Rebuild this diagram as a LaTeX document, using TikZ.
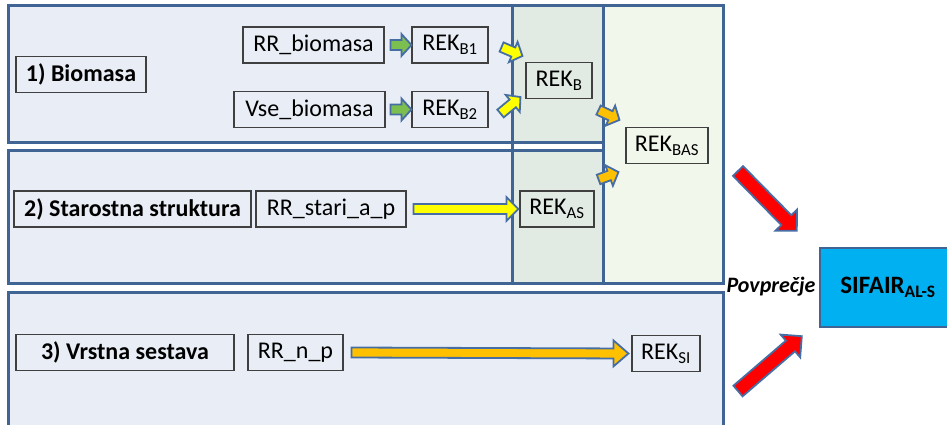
\documentclass[tikz,border=0pt]{standalone}
\usepackage{fontspec}
\setmainfont{Carlito}
\usetikzlibrary{calc,positioning}
\definecolor{panelline}{RGB}{64,100,148}
\definecolor{bluebg}{RGB}{233,238,246}
\definecolor{greybg}{RGB}{226,234,228}
\definecolor{greenbg}{RGB}{242,247,236}
\definecolor{arrowline}{RGB}{70,110,165}
\definecolor{arrowgreen}{RGB}{125,190,80}
\definecolor{arrowyellow}{RGB}{255,255,0}
\definecolor{arroworange}{RGB}{255,192,0}
\definecolor{arrowred}{RGB}{255,0,0}
\definecolor{sifairblue}{RGB}{0,176,240}
\newcommand\fatarrow[6]{%
  \coordinate (fa-h) at ($(#3)!#6!(#2)$);
  \filldraw[fill=#1,draw=arrowline,line width=1.8pt]
    ($(#2)!#4!90:(#3)$) -- ($(fa-h)!#4!90:(#3)$) -- ($(fa-h)!#5!90:(#3)$) -- (#3)
    -- ($(fa-h)!#5!-90:(#3)$) -- ($(fa-h)!#4!-90:(#3)$) -- ($(#2)!#4!-90:(#3)$) -- cycle;}

\begin{document}
\begin{tikzpicture}[x=1pt,y=-1pt]
    \tikzstyle{box}=[draw=black!75,line width=1.1pt,minimum height=36pt,inner sep=0pt,font=\fontsize{24}{28}\selectfont]
    \tikzstyle{title}=[box,font=\bfseries\fontsize{24}{28}\selectfont]
    \tikzstyle{panel}=[draw=panelline,line width=3pt]
    \useasboundingbox (0,0) rectangle (947,425);
    \clip (0,0) rectangle (947,425);
    \draw[panel,fill=bluebg] (8,6) rectangle (603,142);
    \draw[panel,fill=greybg] (512,6) rectangle (603,142);
    \draw[panel,fill=bluebg] (8,150) rectangle (603,283);
    \draw[panel,fill=greybg] (512,150) rectangle (603,283);
    \draw[panel,fill=greenbg] (603,6) rectangle (723,283);
    \draw[panel] (512,6) -- (512,283);
    \draw[panel,fill=bluebg] (8,292) rectangle (723,450);
    \node[title,minimum width=130pt] (bio) at (81,74.5) {1) Biomasa};
    \node[box,minimum width=141pt] (rrbio) at (313.5,45) {RR\_biomasa};
    \node[box,minimum width=151pt] (vsebio) at (309.5,109.5) {Vse\_biomasa};
    \node[box,minimum width=76pt] (b1) at (450,45) {REK\textsubscript{B1}};
    \node[box,minimum width=76pt] (b2) at (450,109.5) {REK\textsubscript{B2}};
    \node[box,minimum width=66pt] (rekb) at (559,80.5) {REK\textsubscript{B}};
    \node[box,minimum width=82pt] (rekbas) at (667,145.5) {REK\textsubscript{BAS}};
    \node[title,minimum width=237pt] (star) at (132.5,209) {2) Starostna struktura};
    \node[box,minimum width=150pt] (rrstari) at (331,209) {RR\_stari\_a\_p};
    \node[box,minimum width=74pt] (rekas) at (557,209) {REK\textsubscript{AS}};
    \node[title,minimum width=218pt] (vrst) at (125,352.5) {3) Vrstna sestava};
    \node[box,minimum width=95pt] (rrnp) at (295.5,352.5) {RR\_n\_p};
    \node[box,minimum width=68pt] (reksi) at (666,353.5) {REK\textsubscript{SI}};
    \node[draw=panelline,line width=2.4pt,fill=sifairblue,minimum width=136pt,minimum height=79pt,font=\bfseries\fontsize{25}{28}\selectfont] (sifair) at (888,287.5) {SIFAIR\textsubscript{AL-S}};
    \node[font=\bfseries\itshape\fontsize{22}{26}\selectfont,inner sep=0pt] (pov) at (771,287) {Povprečje};
    \coordinate (g1s) at ($(rrbio.east)+(6,0)$);
    \coordinate (g2s) at ($(vsebio.east)+(5,0)$);
    \coordinate (y1s) at ($(b1.east)+(13,2)$);
    \coordinate (y1e) at ($(rekb.north west)+(-3,-6)$);
    \coordinate (y2s) at ($(b2.east)+(12,4)$);
    \coordinate (y2e) at ($(rekb.south west)+(-5,-2)$);
    \coordinate (o1s) at ($(rekb.south east)+(6,11)$);
    \coordinate (o1e) at ($(rekbas.north west)+(-6,-7)$);
    \coordinate (o2s) at ($(rekas.north east)+(4,-11)$);
    \coordinate (o2e) at ($(rekbas.south west)+(-7,8)$);
    \coordinate (yls) at ($(rrstari.east)+(7,0)$);
    \coordinate (yle) at ($(rekas.west)+(-1,0)$);
    \coordinate (ols) at ($(rrnp.east)+(8,0)$);
    \coordinate (ole) at ($(reksi.west)+(-3,0)$);
    \coordinate (r1s) at (738,171);
    \coordinate (r1e) at ($(sifair.north west)+(-22,-16)$);
    \coordinate (r2s) at (738,391);
    \coordinate (r2e) at ($(sifair.south west)+(-17,8)$);
    \fatarrow{arrowgreen}{g1s}{b1.west}{5pt}{11pt}{10pt}
    \fatarrow{arrowgreen}{g2s}{b2.west}{5pt}{11pt}{10pt}
    \fatarrow{arrowyellow}{y1s}{y1e}{5pt}{11pt}{10pt}
    \fatarrow{arrowyellow}{y2s}{y2e}{5pt}{11pt}{10pt}
    \fatarrow{arroworange}{o1s}{o1e}{5pt}{11pt}{10pt}
    \fatarrow{arroworange}{o2s}{o2e}{5pt}{11pt}{10pt}
    \fatarrow{arrowyellow}{yls}{yle}{5pt}{12pt}{12pt}
    \fatarrow{arroworange}{ols}{ole}{5pt}{13pt}{15pt}
    \fatarrow{arrowred}{r1s}{r1e}{7pt}{15pt}{15pt}
    \fatarrow{arrowred}{r2s}{r2e}{7pt}{15pt}{15pt}
\end{tikzpicture}
\end{document}
